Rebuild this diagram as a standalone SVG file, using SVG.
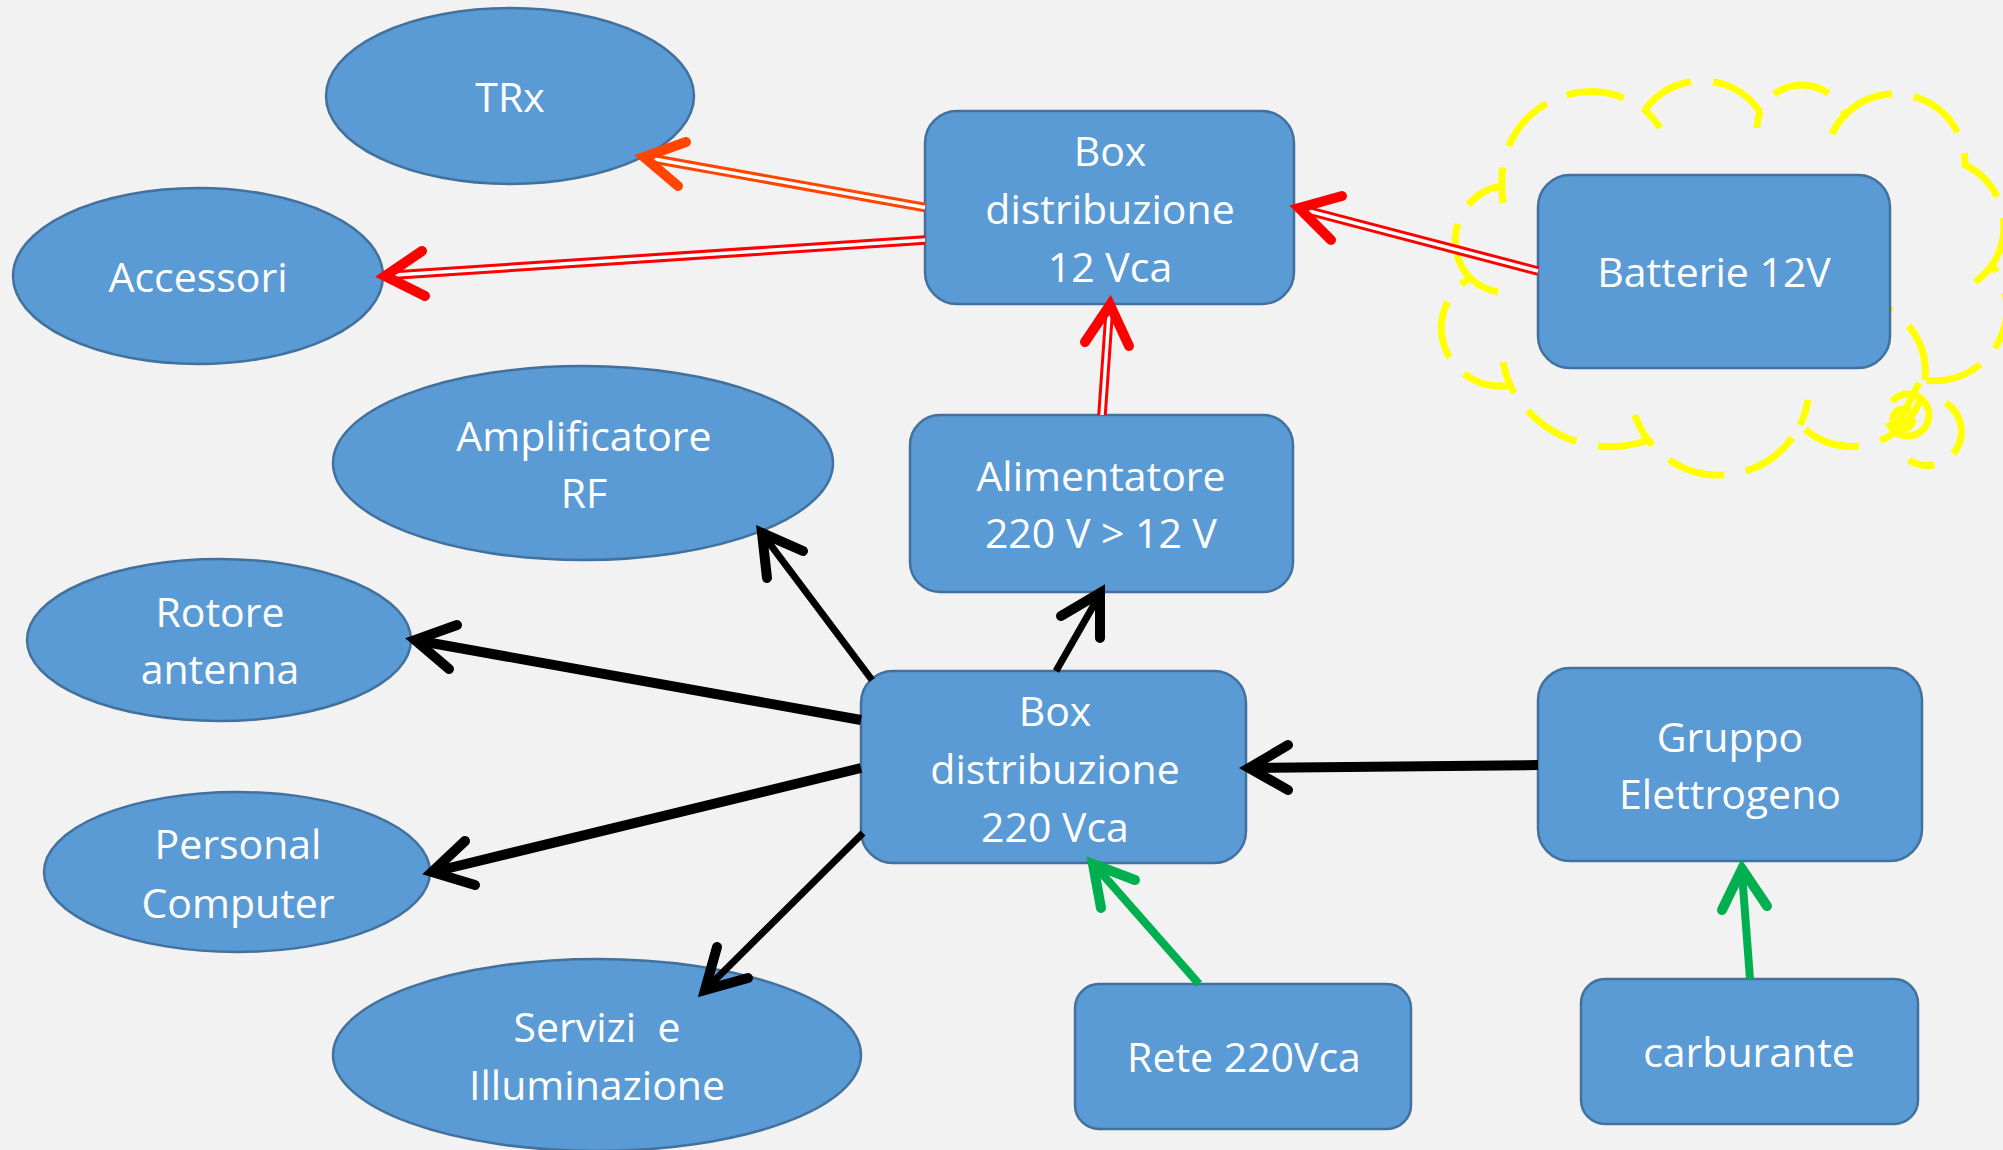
<svg xmlns="http://www.w3.org/2000/svg" width="2003" height="1150" viewBox="0 0 2003 1150">
  <style>
    .node { fill: #5B9BD5; stroke: #41719C; stroke-width: 2.5; }
    .lbl { font-family: "Open Sans", "Liberation Sans", sans-serif; font-size: 41px; fill: #FFFFFF; text-anchor: middle; white-space: pre; }
    .cloud { fill: none; stroke: #FFFF00; stroke-width: 7; stroke-dasharray: 58 22; }
    .dbl-out { fill: none; stroke-width: 9.5; }
    .dbl-in { fill: none; stroke: #FFFFFF; stroke-width: 3.5; }
    .head { fill: none; stroke-width: 10; stroke-linecap: round; stroke-linejoin: miter; }
    .red { stroke: #FF0000; }
    .ored { stroke: #FF4500; }
    .blk { stroke: #000000; fill: none; }
    .grn { stroke: #00B050; fill: none; }
  </style>

  <rect x="0" y="0" width="2003" height="1150" fill="#F2F2F2"/>

  <!-- dashed cloud around the battery block -->
  <g id="cloud-batterie">
    <path class="cloud" d="M 1470,278 A 55 55 0 0 1 1502,186 A 89 89 0 0 1 1645,110 A 70 70 0 0 1 1760,112 A 46 46 0 0 1 1845,115 A 70 70 0 0 1 1965,165 A 68 68 0 0 1 1992,265 A 72 72 0 0 1 1925,380 A 73.5 73.5 0 0 1 1800,425 A 90 90 0 0 1 1648,440 A 112 112 0 0 1 1510,385 A 58 58 0 0 1 1470,278 Z"/>
    <path class="cloud" d="M 1470,278 A 55 55 0 0 0 1498,292"/>
    <path class="cloud" d="M 1502,186 A 89 89 0 0 0 1503,203"/>
    <path class="cloud" d="M 1645,110 A 89 89 0 0 1 1660,128"/>
    <path class="cloud" d="M 1760,112 A 46 46 0 0 0 1757,128"/>
    <path class="cloud" d="M 1845,115 A 70 70 0 0 0 1832,134"/>
    <path class="cloud" d="M 1992,265 A 68 68 0 0 1 1975,282"/>
    <path class="cloud" d="M 1925,380 A 73.5 73.5 0 0 0 1887,308"/>
    <path class="cloud" d="M 1800,425 A 90 90 0 0 0 1808,400"/>
    <path class="cloud" d="M 1648,440 A 90 90 0 0 1 1635,415"/>
    <path class="cloud" d="M 1510,385 A 112 112 0 0 1 1503,362"/>
    <!-- small thought-bubble circles -->
    <circle class="cloud" cx="1908" cy="415" r="21" stroke-dasharray="100 32"/>
    <circle class="cloud" cx="1903" cy="419" r="10" stroke-width="5" stroke-dasharray="48 15"/>
    <path class="cloud" d="M 1946,403 A 30 30 0 0 1 1909,460"/>
    <path class="cloud" d="M 1919,383 L 1890,440" stroke-width="6" stroke-dasharray="none"/>
  </g>

  <!-- nodes -->
  <g id="trx">
    <ellipse class="node" cx="510" cy="96" rx="184" ry="88"/>
    <text class="lbl" x="510" y="112">TRx</text>
  </g>
  <g id="accessori">
    <ellipse class="node" cx="198" cy="276" rx="185" ry="88"/>
    <text class="lbl" x="198" y="292">Accessori</text>
  </g>
  <g id="amplificatore">
    <ellipse class="node" cx="583" cy="463" rx="250" ry="97"/>
    <text class="lbl" x="584" y="451">Amplificatore</text>
    <text class="lbl" x="584" y="508">RF</text>
  </g>
  <g id="rotore">
    <ellipse class="node" cx="219" cy="640" rx="192" ry="81"/>
    <text class="lbl" x="220" y="627">Rotore</text>
    <text class="lbl" x="220" y="684">antenna</text>
  </g>
  <g id="personal-computer">
    <ellipse class="node" cx="237" cy="872" rx="193" ry="80"/>
    <text class="lbl" x="238" y="859">Personal</text>
    <text class="lbl" x="238" y="918">Computer</text>
  </g>
  <g id="servizi">
    <ellipse class="node" cx="597" cy="1055" rx="264" ry="96"/>
    <text class="lbl" x="597" y="1042">Servizi  e</text>
    <text class="lbl" x="597" y="1100">Illuminazione</text>
  </g>
  <g id="box-12">
    <rect class="node" x="925" y="111" width="369" height="193" rx="32"/>
    <text class="lbl" x="1110" y="166">Box</text>
    <text class="lbl" x="1110" y="224">distribuzione</text>
    <text class="lbl" x="1110" y="282">12 Vca</text>
  </g>
  <g id="batterie">
    <rect class="node" x="1538" y="175" width="352" height="193" rx="32"/>
    <text class="lbl" x="1714" y="287">Batterie 12V</text>
  </g>
  <g id="alimentatore">
    <rect class="node" x="910" y="415" width="383" height="177" rx="30"/>
    <text class="lbl" x="1101" y="491">Alimentatore</text>
    <text class="lbl" x="1101" y="548">220 V &gt; 12 V</text>
  </g>
  <g id="box-220">
    <rect class="node" x="861" y="671" width="385" height="192" rx="32"/>
    <text class="lbl" x="1055" y="726">Box</text>
    <text class="lbl" x="1055" y="784">distribuzione</text>
    <text class="lbl" x="1055" y="842">220 Vca</text>
  </g>
  <g id="gruppo">
    <rect class="node" x="1538" y="668" width="384" height="193" rx="32"/>
    <text class="lbl" x="1730" y="752">Gruppo</text>
    <text class="lbl" x="1730" y="809">Elettrogeno</text>
  </g>
  <g id="rete">
    <rect class="node" x="1075" y="984" width="336" height="145" rx="24"/>
    <text class="lbl" x="1244" y="1072">Rete 220Vca</text>
  </g>
  <g id="carburante">
    <rect class="node" x="1581" y="979" width="337" height="145" rx="24"/>
    <text class="lbl" x="1749" y="1067">carburante</text>
  </g>

  <!-- connectors -->
  <g id="connectors">
    <!-- 12 V side: double red lines -->
    <path class="dbl-out ored" d="M 925,207.5 L 654,159"/>
    <path class="dbl-in" d="M 925,207.5 L 654,159"/>
    <path class="head ored" stroke-width="9" d="M 686,142 L 644,157 L 678,186"/>

    <path class="dbl-out red" d="M 925,240 L 395,275"/>
    <path class="dbl-in" d="M 925,240 L 395,275"/>
    <path class="head red" stroke-width="9" d="M 422,251 L 385,276 L 425,296"/>

    <path class="dbl-out red" d="M 1538,271 L 1309,211"/>
    <path class="dbl-in" d="M 1538,271 L 1309,211"/>
    <path class="head red" stroke-width="9" d="M 1342,196 L 1299,208 L 1331,240"/>

    <path class="dbl-out red" d="M 1102,415 L 1109,315"/>
    <path class="dbl-in" d="M 1102,415 L 1109,315"/>
    <path class="head red" stroke-width="9" d="M 1129,346 L 1110,305 L 1085,342"/>

    <!-- 220 V distribution: black arrows -->
    <path class="blk" stroke-width="7" d="M 872,680 L 764,536"/>
    <path class="head blk" d="M 803,551 L 762,533 L 767,578"/>

    <path class="blk" stroke-width="10" d="M 861,720 L 420,641"/>
    <path class="head blk" d="M 457,625 L 415,640 L 449,669"/>

    <path class="blk" stroke-width="10" d="M 861,768 L 437,871"/>
    <path class="head blk" d="M 465,841 L 432,872 L 475,885"/>

    <path class="blk" stroke-width="7" d="M 863,833 L 708,987"/>
    <path class="head blk" d="M 717,947 L 705,990 L 748,978"/>

    <path class="blk" stroke-width="7" d="M 1056,671 L 1099,596"/>
    <path class="head blk" d="M 1100,638 L 1100,593 L 1061,616"/>

    <path class="blk" stroke-width="10" d="M 1538,765 L 1254,768"/>
    <path class="head blk" d="M 1288,745 L 1249,768 L 1288,790"/>

    <!-- supply inputs: green arrows -->
    <path class="grn" stroke-width="8" d="M 1199,984 L 1097,868"/>
    <path class="head grn" d="M 1135,880 L 1093,864 L 1101,908"/>

    <path class="grn" stroke-width="8" d="M 1750,979 L 1742,873"/>
    <path class="head grn" d="M 1767,906 L 1742,869 L 1722,910"/>
  </g>
</svg>
